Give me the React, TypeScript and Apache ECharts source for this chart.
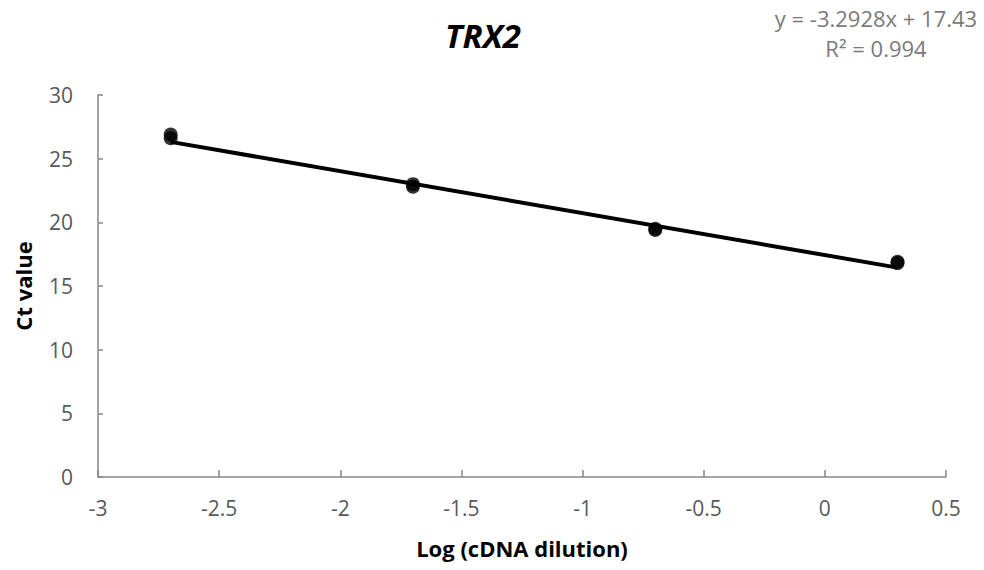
import React, { useEffect, useRef } from "react";
import * as echarts from "echarts";

// Standard curve: log dilution vs Ct (replicate wells)
const logDilution = [-2.7, -2.7, -1.7, -1.7, -0.7, -0.7, 0.3, 0.3];
const ctValues = [26.9, 26.6, 23.0, 22.8, 19.5, 19.4, 16.9, 16.8];

// Linear fit reported for the curve
const slope = -3.2928;
const intercept = 17.43;
const rSquared = 0.994;
const fitRange = [-2.7, 0.3];

const xTicks = { min: -3, max: 0.5, interval: 0.5 };
const yTicks = { min: 0, max: 30, interval: 5 };

const FONT = "'Open Sans', Lato, sans-serif";
const AXIS_GREY = "#868686";
const LABEL_GREY = "#595959";

export default function App() {
  const ref = useRef<HTMLDivElement>(null);

  useEffect(() => {
    if (!ref.current) return;
    const chart = echarts.init(ref.current, undefined, { renderer: "svg" });

    const points = logDilution.map((x, i) => [x, ctValues[i]]);
    const fitLine = fitRange.map((x) => [x, slope * x + intercept]);
    const eq = `y = ${slope}x + ${intercept}`;

    chart.setOption({
      animation: false,
      backgroundColor: "#ffffff",
      textStyle: { fontFamily: FONT },
      grid: { left: 98, right: 38, top: 95, bottom: 93, containLabel: false },
      title: {
        text: "TRX2",
        left: 478,
        top: 14,
        textAlign: "center",
        textStyle: {
          fontFamily: FONT,
          fontSize: 33,
          fontWeight: "bold",
          fontStyle: "italic",
          color: "#000000",
        },
      },
      graphic: [
        {
          type: "text",
          x: 876,
          y: 7,
          style: {
            text: eq,
            textAlign: "center",
            fontFamily: FONT,
            fontSize: 22,
            fill: "#7a7a7a",
          },
        },
        {
          type: "text",
          x: 876,
          y: 37,
          style: {
            text: `R² = ${rSquared}`,
            textAlign: "center",
            fontFamily: FONT,
            fontSize: 22,
            fill: "#7a7a7a",
          },
        },
      ],
      xAxis: {
        type: "value",
        min: xTicks.min,
        max: xTicks.max,
        interval: xTicks.interval,
        name: "Log (cDNA dilution)",
        nameLocation: "middle",
        nameGap: 60,
        nameTextStyle: { fontFamily: FONT, fontSize: 22, fontWeight: "bold", color: "#000" },
        axisLine: { show: true, onZero: false, lineStyle: { color: AXIS_GREY, width: 1.5 } },
        axisTick: { show: true, inside: true, length: 7, lineStyle: { color: AXIS_GREY, width: 1.5 } },
        axisLabel: {
          fontFamily: FONT,
          fontSize: 21,
          color: LABEL_GREY,
          margin: 20,
          formatter: (v: number) => String(v),
        },
        splitLine: { show: false },
      },
      yAxis: {
        type: "value",
        min: yTicks.min,
        max: yTicks.max,
        interval: yTicks.interval,
        name: "Ct value",
        nameLocation: "middle",
        nameGap: 64,
        nameTextStyle: { fontFamily: FONT, fontSize: 22, fontWeight: "bold", color: "#000" },
        axisLine: { show: true, onZero: false, lineStyle: { color: AXIS_GREY, width: 1.5 } },
        axisTick: { show: true, inside: true, length: 5, lineStyle: { color: AXIS_GREY, width: 1.5 } },
        axisLabel: { fontFamily: FONT, fontSize: 21, color: LABEL_GREY, margin: 25 },
        splitLine: { show: false },
      },
      series: [
        {
          type: "line",
          data: fitLine,
          showSymbol: false,
          symbol: "none",
          lineStyle: { color: "#000000", width: 4 },
          z: 2,
        },
        {
          type: "scatter",
          data: points,
          symbol: "circle",
          symbolSize: 14,
          itemStyle: { color: "#000000" },
          z: 3,
        },
      ],
    });

    return () => chart.dispose();
  }, []);

  return <div ref={ref} style={{ width: 984, height: 570, margin: -8 }} />;
}
